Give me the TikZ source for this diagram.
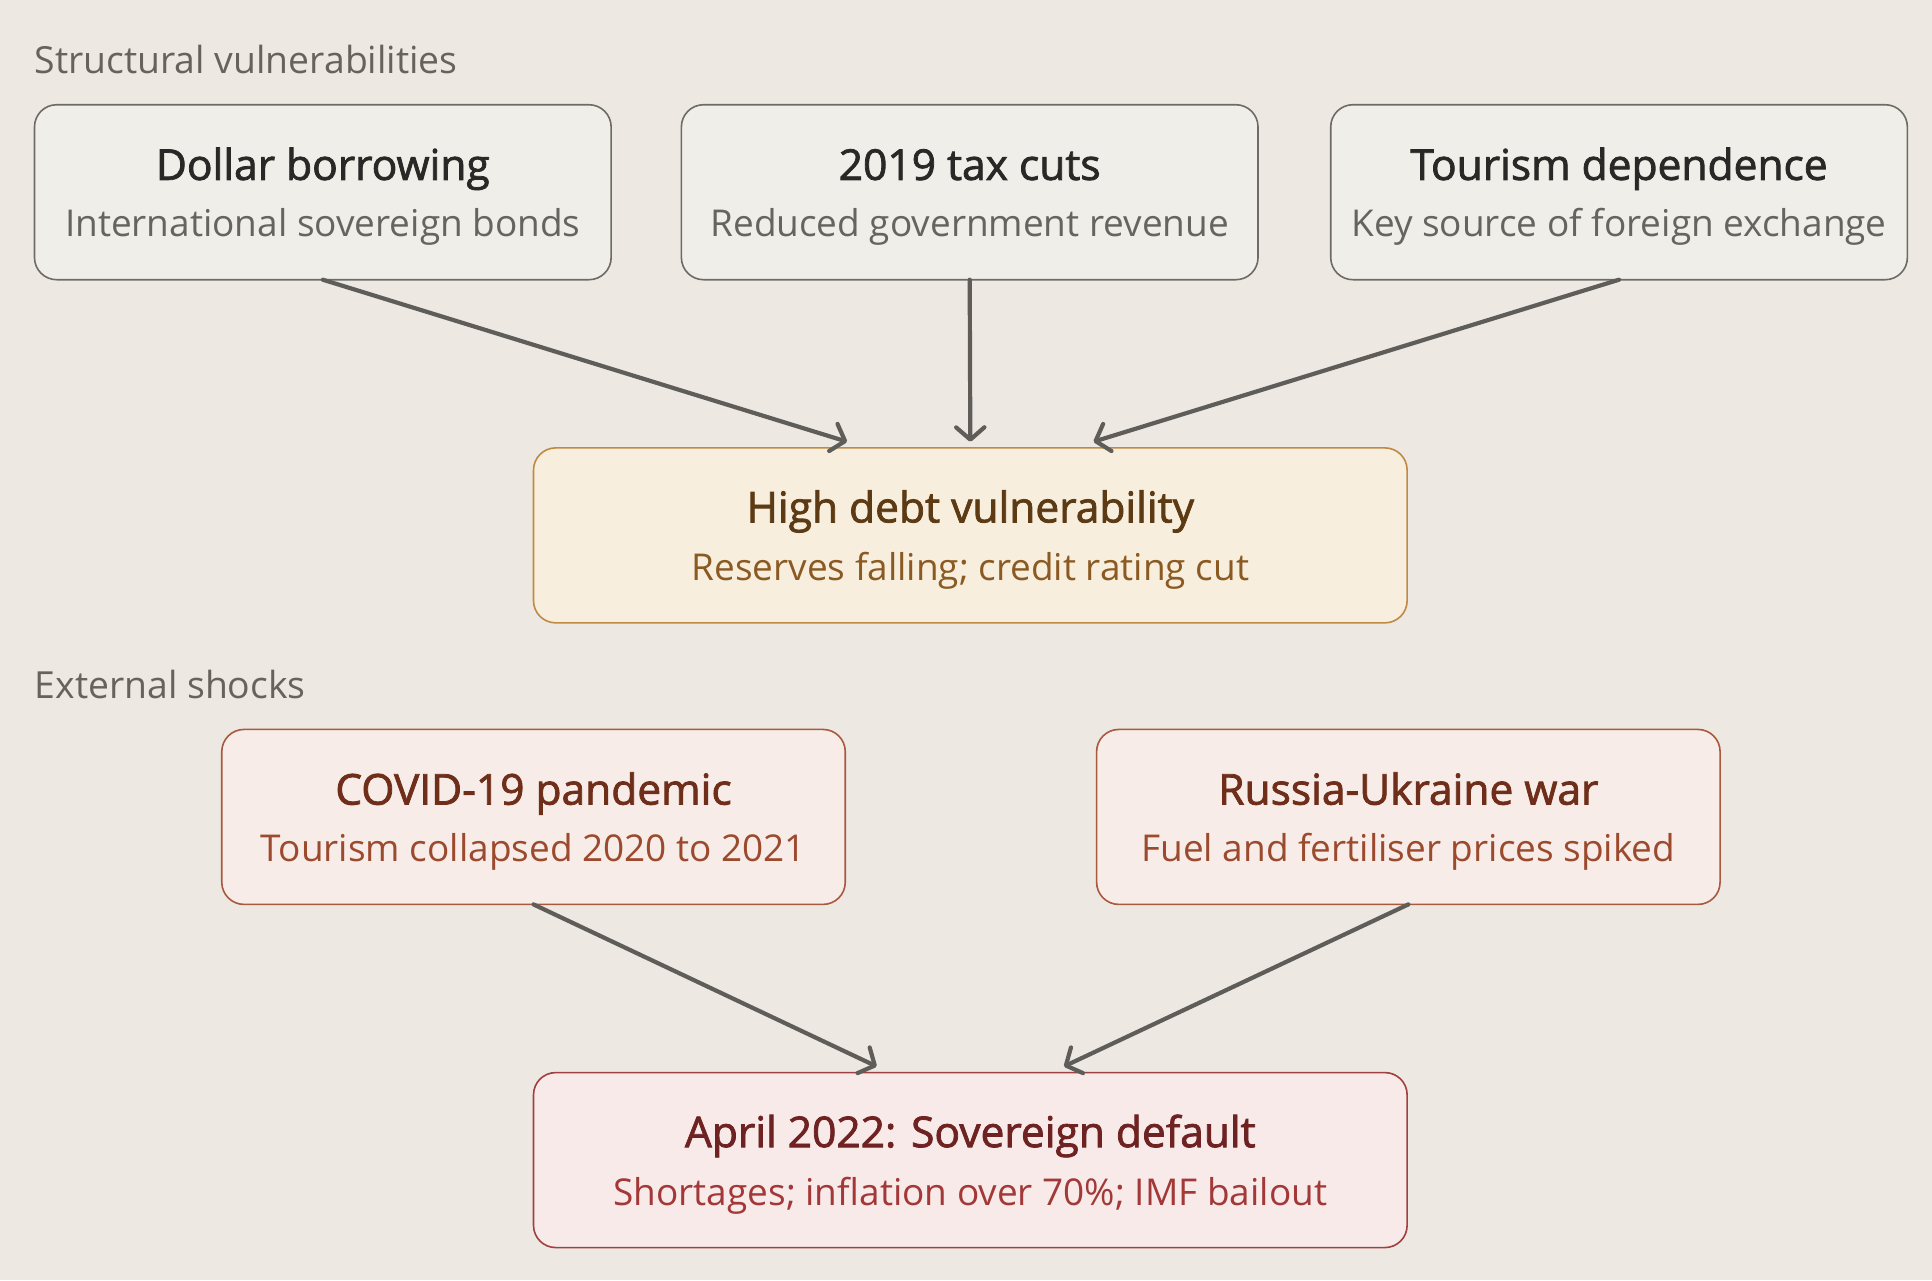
\documentclass[tikz,border=0pt]{standalone}
\usepackage{fontspec}
\setmainfont{Open Sans}
\newfontfamily\titlef{Open Sans}[FakeBold=1.8]
\usetikzlibrary{arrows.meta}
\definecolor{bg}{HTML}{EDE8E2}
\definecolor{secgray}{HTML}{66625D}
\definecolor{gfill}{HTML}{F0EEE9}
\definecolor{gline}{HTML}{6E6B67}
\definecolor{gtitle}{HTML}{2A2826}
\definecolor{gsub}{HTML}{67635E}
\definecolor{yfill}{HTML}{F8EEDD}
\definecolor{yline}{HTML}{C08A45}
\definecolor{ytitle}{HTML}{5C3A14}
\definecolor{ysub}{HTML}{8A5A22}
\definecolor{ofill}{HTML}{F7ECE7}
\definecolor{oline}{HTML}{A85A40}
\definecolor{otitle}{HTML}{6E2E1A}
\definecolor{osub}{HTML}{9C4A2E}
\definecolor{rfill}{HTML}{F8EAE9}
\definecolor{rline}{HTML}{A04040}
\definecolor{rtitle}{HTML}{6E2222}
\definecolor{rsub}{HTML}{A23838}
\definecolor{arr}{HTML}{5F5D5A}
\begin{document}
\begin{tikzpicture}[x=1pt,y=-1pt,
  box/.style={draw, rounded corners=18pt, line width=1.3pt, inner sep=0pt, outer sep=0pt, minimum height=142pt},
  gbox/.style={box, draw=gline, fill=gfill, minimum width=468pt},
  ybox/.style={box, draw=yline, fill=yfill, minimum width=709pt},
  obox/.style={box, draw=oline, fill=ofill, minimum width=506pt},
  rbox/.style={box, draw=rline, fill=rfill, minimum width=709pt},
  ttl/.style={anchor=base, inner sep=0pt, font=\titlef\fontsize{34.5}{40}\selectfont},
  sub/.style={anchor=base, inner sep=0pt, font=\fontsize{30}{36}\selectfont},
  sec/.style={anchor=base west, inner sep=0pt, text=secgray, font=\fontsize{30.3}{36}\selectfont},
  link/.style={draw=arr, line width=3.4pt, line cap=round, -{Straight Barb[length=10pt,width=23pt,line cap=round,line join=round]}}
]
\fill[bg] (0,0) rectangle (1568,1039);

\node[sec] (s1) at (28,60) {Structural vulnerabilities};
\node[sec] (s2) at (28,567) {External shocks};

\node[gbox] (A) at (262,156) {};
\node[ttl, text=gtitle] (At) at (262,146) {Dollar borrowing};
\node[sub, text=gsub] (As) at (262,192) {International sovereign bonds};

\node[gbox] (B) at (787,156) {};
\node[ttl, text=gtitle] (Bt) at (787,146) {2019 tax cuts};
\node[sub, text=gsub] (Bs) at (787,192) {Reduced government revenue};

\node[gbox] (C) at (1314,156) {};
\node[ttl, text=gtitle] (Ct) at (1314,146) {Tourism dependence};
\node[sub, text=gsub] (Cs) at (1314,192) {Key source of foreign exchange};

\node[ybox] (D) at (787.5,434.5) {};
\node[ttl, text=ytitle] (Dt) at (787.5,424) {High debt vulnerability};
\node[sub, text=ysub] (Ds) at (787.5,471) {Reserves falling; credit rating cut};

\node[obox] (E) at (433,663) {};
\node[ttl, text=otitle] (Et) at (433,653) {COVID-19 pandemic};
\node[sub, text=osub] (Es) at (433,699) {Tourism collapsed 2020 to 2021};

\node[obox] (F) at (1143,663) {};
\node[ttl, text=otitle] (Ft) at (1143,653) {Russia-Ukraine war};
\node[sub, text=osub] (Fs) at (1143,699) {Fuel and fertiliser prices spiked};

\node[rbox] (G) at (787.5,941.5) {};
\node[ttl, text=rtitle] (Gt) at (787.5,931) {April 2022: Sovereign default};
\node[sub, text=rsub] (Gs) at (787.5,978) {Shortages; inflation over 70\%; IMF bailout};

\coordinate (DL) at ([xshift=-100pt,yshift=5pt]D.north);
\coordinate (DM) at ([yshift=5pt]D.north);
\coordinate (DR) at ([xshift=100pt,yshift=5pt]D.north);
\coordinate (GL) at ([xshift=-76pt,yshift=5pt]G.north);
\coordinate (GR) at ([xshift=76pt,yshift=5pt]G.north);

\draw[link] (A.south) -- (DL);
\draw[link] (B.south) -- (DM);
\draw[link] (C.south) -- (DR);
\draw[link] (E.south) -- (GL);
\draw[link] (F.south) -- (GR);
\end{tikzpicture}
\end{document}
